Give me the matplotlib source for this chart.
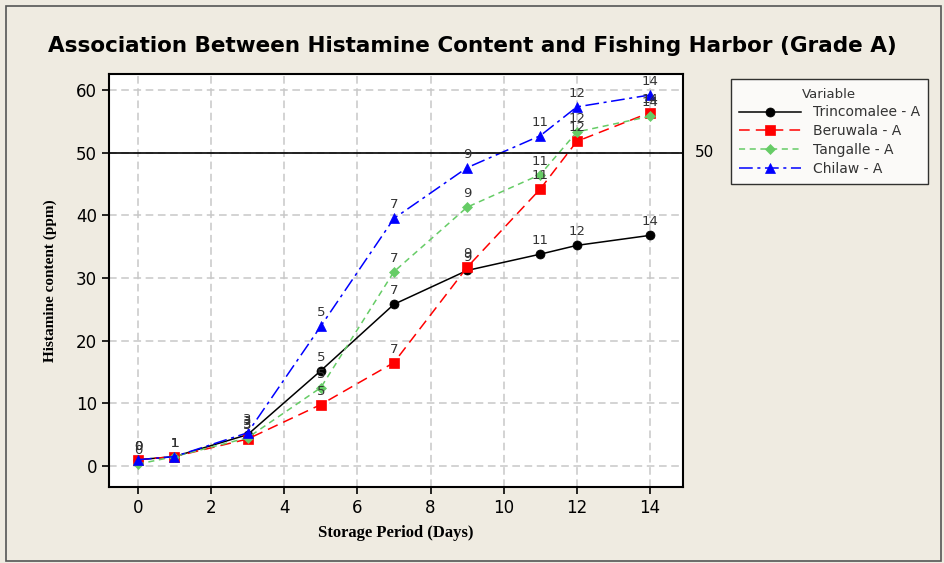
import matplotlib
matplotlib.use("Agg")
import matplotlib.pyplot as plt
from matplotlib.patches import Rectangle

# ============================================================
# DATA
# ============================================================
days = [0, 1, 3, 5, 7, 9, 11, 12, 14]
trincomalee = [1.0, 1.5, 5.0, 15.2, 25.8, 31.2, 33.8, 35.2, 36.8]
beruwala = [1.0, 1.5, 4.3, 9.8, 16.5, 31.7, 44.2, 51.8, 56.4]
tangalle = [0.3, 1.5, 4.5, 12.5, 31.0, 41.3, 46.5, 53.3, 55.8]
chilaw = [1.0, 1.5, 5.3, 22.3, 39.5, 47.6, 52.7, 57.3, 59.2]
ref_level = 50

series_names = ["Trincomalee - A", "Beruwala - A", "Tangalle - A", "Chilaw - A"]

bg = "#efebe1"

fig = plt.figure(figsize=(9.45, 5.63), dpi=100, facecolor=bg)
fig.patches.append(Rectangle((0.006, 0.004), 0.99, 0.985, transform=fig.transFigure,
                             fill=False, edgecolor="#555555", linewidth=1.2))
ax = fig.add_axes([0.1153, 0.135, 0.6074, 0.7336])

styles = [
    dict(color="black", marker="o", linestyle="-", markersize=6.5),
    dict(color="red", marker="s", linestyle=(0, (7, 4)), markersize=6.5),
    dict(color="#66cc66", marker="D", linestyle=(0, (4, 3)), markersize=5.5),
    dict(color="blue", marker="^", linestyle=(0, (9, 3, 2, 3)), markersize=7.5),
]

for vals, name, st in zip([trincomalee, beruwala, tangalle, chilaw], series_names, styles):
    ax.plot(days, vals, linewidth=1.1, label=name, markeredgewidth=0.5, **st)
    for d, v in zip(days, vals):
        ax.annotate(str(d), (d, v), xytext=(0, 5), textcoords="offset points",
                    ha="center", va="bottom", fontsize=9.5, color="#333333")

ax.axhline(ref_level, color="black", linewidth=1.2)
ax.text(1.02, ref_level, str(ref_level), transform=ax.get_yaxis_transform(),
        ha="left", va="center", fontsize=11)

ax.set_xlim(-0.79, 14.9)
ax.set_ylim(-3.35, 62.55)
ax.set_xticks(range(0, 15, 2))
ax.set_yticks(range(0, 61, 10))
ax.grid(True, color="#c8c8c8", linestyle=(0, (5, 3)), linewidth=1.1)
ax.set_axisbelow(True)
for s in ax.spines.values():
    s.set_linewidth(1.5)
ax.tick_params(labelsize=12, width=1.2, length=5)

ax.set_xlabel("Storage Period (Days)", family="Liberation Serif", fontweight="bold",
              fontsize=12, labelpad=6)
ax.set_ylabel("Histamine content (ppm)", family="Liberation Serif", fontweight="bold",
              fontsize=11, labelpad=14)
fig.text(0.5, 0.918, "Association Between Histamine Content and Fishing Harbor (Grade A)",
         ha="center", va="center", fontsize=15.5, fontweight="bold")

leg = ax.legend(loc="upper left", bbox_to_anchor=(1.071, 1.004), title="Variable",
                fontsize=10, title_fontsize=9.5, frameon=True, fancybox=False,
                edgecolor="black", handlelength=4.5, borderpad=0.6, labelspacing=0.35)
leg.get_frame().set_linewidth(1.0)
for t in leg.get_texts():
    t.set_color("#333333")
leg.get_title().set_color("#333333")

fig.savefig("out.png", dpi=100, facecolor=bg)
